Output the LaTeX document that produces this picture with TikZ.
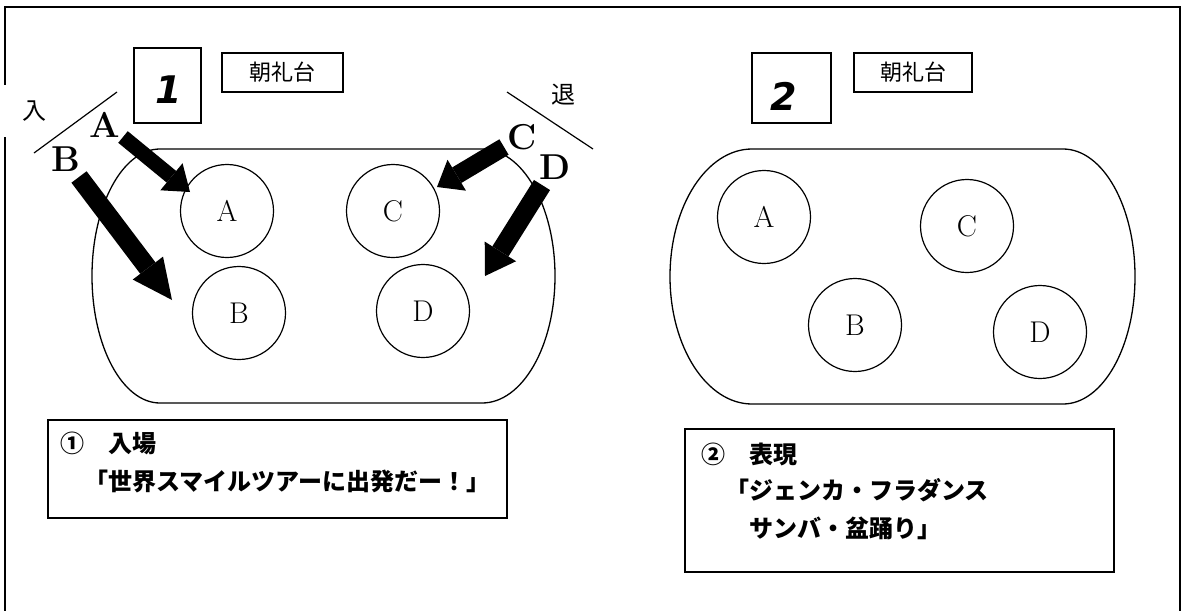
\documentclass[tikz,border=0pt]{standalone}
\usepackage{fontspec}
\usetikzlibrary{arrows.meta}
\newfontfamily\jpfont{Noto Sans CJK JP}
\newfontfamily\numfont{DejaVu Sans}
\tikzset{
  sheet/.style={line width=1.6pt},
  gate/.style={line width=1.2pt},
  field/.style={line width=1.3pt},
  seat/.style={draw,circle,line width=1.2pt,minimum size=93pt,inner sep=0pt,font=\fontsize{30}{30}\selectfont},
  team/.style={inner sep=0pt,font=\fontsize{36}{36}\selectfont\bfseries},
  stage/.style={draw,line width=1.3pt,minimum height=39pt,inner sep=0pt,font=\jpfont\fontsize{22}{22}\selectfont},
  numbox/.style={draw,line width=1.4pt,inner sep=0pt},
  num/.style={inner sep=0pt,font=\numfont\bfseries\itshape\fontsize{38}{38}\selectfont},
  side/.style={inner sep=0pt,font=\jpfont\fontsize{24}{24}\selectfont},
  memo/.style={draw,line width=1.6pt,inner sep=0pt,anchor=north west},
  memotext/.style={anchor=base west,inner sep=0pt,font=\jpfont\bfseries\fontsize{24}{24}\selectfont},
  fatarrow/.style n args={3}{line width=#1,-{Triangle[width=#2,length=#3,line width=0pt 0 0]}},
}
\begin{document}
\begin{tikzpicture}[x=1pt,y=-1pt]
  \clip (0,0) rectangle (1185,610);
  % outer frame, open at the bottom
  \draw[sheet] (5,640) -- (5,7) -- (1180,7) -- (1180,640);

  % ---------- 1 ----------
  \node[side,fill=white,minimum width=64pt,minimum height=52pt] (iri) at (35,111) {入};
  \draw[gate] (34,153) -- (117,92);
  \node[side] (tai) at (563,95) {退};
  \draw[gate] (507,92) -- (593,149);
  \node[numbox,minimum width=67pt,minimum height=75pt] (no1) at (167.5,85.5) {};
  \node[num] (n1) at (169,90) {1};
  \node[stage,minimum width=121pt] (dai1) at (282.5,72.5) {朝礼台\hspace{12pt}};
  \draw[field] (160,149) -- (482,149)
    arc[start angle=-90,end angle=90,x radius=73,y radius=127] -- (160,403)
    arc[start angle=90,end angle=270,x radius=68,y radius=127] -- cycle;
  \node[seat] (a1) at (227,211) {A};
  \node[seat] (b1) at (239,313) {B};
  \node[seat] (c1) at (393,211) {C};
  \node[seat] (d1) at (423,311) {D};
  \node[team] (la) at (105,125) {A};
  \node[team] (lb) at (66,159) {B};
  \node[team] (lc) at (522,137) {C};
  \node[team] (ld) at (555,167) {D};
  \coordinate (ta) at (123,137); \coordinate (ha) at (190,192);
  \coordinate (tb) at (79,177);  \coordinate (hb) at (172,300);
  \coordinate (tc) at (504,147); \coordinate (hc) at (437,187);
  \coordinate (td) at (542,185); \coordinate (hd) at (485,276);
  \draw[fatarrow={15pt}{35pt}{24pt}] (ta) -- (ha);
  \draw[fatarrow={19pt}{38pt}{40pt}] (tb) -- (hb);
  \draw[fatarrow={18pt}{36pt}{23pt}] (tc) -- (hc);
  \draw[fatarrow={19pt}{37pt}{29pt}] (td) -- (hd);
  \node[memo,minimum width=459pt,minimum height=98pt] (memo1) at (47,419) {};
  \node[memotext] (m1a) at (60,452) {①　入場};
  \node[memotext] (m1b) at (60,490) {　「世界スマイルツアーに出発だー！」};

  % ---------- 2 ----------
  \node[numbox,minimum width=79pt,minimum height=70pt] (no2) at (791.5,88) {};
  \node[num] (n2) at (784,96) {2};
  \node[stage,minimum width=118pt] (dai2) at (913,72.5) {朝礼台\hspace{12pt}};
  \draw[field] (752,149) -- (1063,149)
    arc[start angle=-90,end angle=90,x radius=72,y radius=127.5] -- (752,404)
    arc[start angle=90,end angle=270,x radius=82,y radius=127.5] -- cycle;
  \node[seat] (a2) at (764,217) {A};
  \node[seat] (b2) at (855,325) {B};
  \node[seat] (c2) at (967,226) {C};
  \node[seat] (d2) at (1040,332) {D};
  \node[memo,minimum width=429pt,minimum height=143pt] (memo2) at (684,428) {};
  \node[memotext] (m2a) at (701,463) {②　表現};
  \node[memotext] (m2b) at (701,499) {　「ジェンカ・フラダンス};
  \node[memotext] (m2c) at (701,537) {　　サンバ・盆踊り」};
\end{tikzpicture}
\end{document}
